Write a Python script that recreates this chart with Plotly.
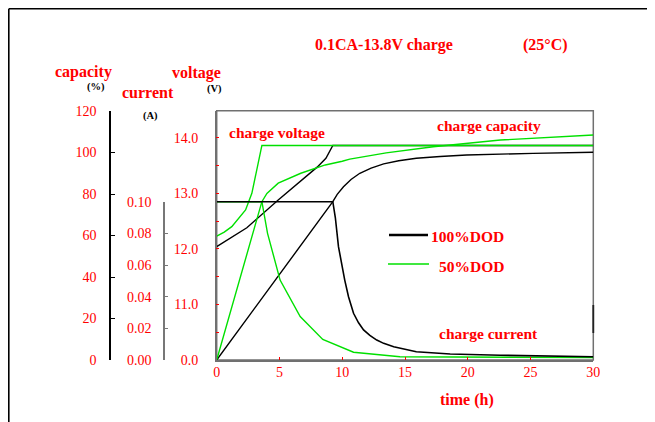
import plotly.graph_objects as go

# ---------------- data ----------------
time_v100 = [0, 2.4, 4.9, 6.8, 8.0, 8.7, 9.05, 9.25, 30]
volt_100 = [12.04, 12.38, 12.88, 13.24, 13.47, 13.63, 13.78, 13.86, 13.86]

time_v50 = [0, 0.6, 1.2, 2.3, 2.8, 3.2, 3.6, 30]
volt_50 = [12.23, 12.30, 12.40, 12.70, 13.00, 13.42, 13.86, 13.86]

time_i100 = [0, 9.25, 9.45, 9.7, 10.2, 10.5, 10.9, 11.3, 11.7, 12.2, 12.75, 13.3, 14.1, 15.9, 18.6, 22.6, 30]
curr_100 = [0.100, 0.100, 0.090, 0.0716, 0.0505, 0.040, 0.0295, 0.0235, 0.019, 0.0155, 0.0126, 0.0105,
            0.0084, 0.0052, 0.0038, 0.0030, 0.0021]

time_i50 = [0, 3.6, 4.05, 5.05, 6.65, 8.45, 10.9, 14.6, 30]
curr_50 = [0.100, 0.100, 0.080, 0.0505, 0.0275, 0.013, 0.0049, 0.0021, 0.0015]

time_c100 = [0, 9.25, 9.6, 10.1, 10.7, 11.4, 12.3, 13.3, 14.5, 15.9, 17.8, 19.9, 25.2, 30]
cap_100 = [0, 76.3, 79.8, 83.5, 87.0, 90.0, 92.5, 94.5, 96.0, 97.2, 98.1, 98.8, 99.6, 100.1]

time_c50 = [0, 3.6, 4.0, 4.9, 6.7, 8.65, 10.0, 10.6, 13.5, 17.25, 22.6, 30]
cap_50 = [0, 76.3, 80.3, 85.2, 90.0, 94.0, 95.8, 96.8, 99.8, 102.8, 106.0, 108.4]

x_ticks = [0, 5, 10, 15, 20, 25, 30]
volt_ticks = [10.0, 10.5, 11.0, 11.5, 12.0, 12.5, 13.0, 13.5, 14.0]
volt_ticktext = ["0.0", "", "11.0", "", "12.0", "", "13.0", "", "14.0"]
cap_ticks = [0, 20, 40, 60, 80, 100, 120]
curr_ticks = [0.00, 0.02, 0.04, 0.06, 0.08, 0.10]

# ---------------- style ----------------
OFF = 8                      # page body margin
W, H = 655 - OFF, 422 - OFF
RED = "#ff0000"
GREEN = "#00e000"
BLACK = "#000000"
FRAME = "#707070"
SERIF = "Liberation Serif, Times New Roman, serif"


def px(x):
    return (x - OFF) / W


def py(y):
    return 1 - (y - OFF) / H


PLOT_L, PLOT_R, PLOT_T, PLOT_B = 216.7, 593.3, 110.7, 360.0
plot_h = PLOT_B - PLOT_T

fig = go.Figure()

# voltage (base axis)
fig.add_trace(go.Scatter(x=time_v100, y=volt_100, mode="lines", line=dict(color=BLACK, width=1.4),
                         showlegend=False, hoverinfo="skip"))
fig.add_trace(go.Scatter(x=time_v50, y=volt_50, mode="lines", line=dict(color=GREEN, width=1.4),
                         showlegend=False, hoverinfo="skip"))
# capacity
fig.add_trace(go.Scatter(x=time_c100, y=cap_100, yaxis="y2", mode="lines", line=dict(color=BLACK, width=1.4),
                         showlegend=False, hoverinfo="skip"))
fig.add_trace(go.Scatter(x=time_c50, y=cap_50, yaxis="y2", mode="lines", line=dict(color=GREEN, width=1.4),
                         showlegend=False, hoverinfo="skip"))
# current (hidden full-height axis)
fig.add_trace(go.Scatter(x=time_i50, y=curr_50, yaxis="y4", mode="lines", line=dict(color=GREEN, width=1.4),
                         showlegend=False, hoverinfo="skip"))
fig.add_trace(go.Scatter(x=time_i100, y=curr_100, yaxis="y4", mode="lines", line=dict(color=BLACK, width=1.6),
                         showlegend=False, hoverinfo="skip"))
# anchor trace for the visible current axis
fig.add_trace(go.Scatter(x=[0], y=[0], yaxis="y3", mode="markers", marker=dict(opacity=0, size=1),
                         showlegend=False, hoverinfo="skip"))

v_top = 10 + 4.0 * plot_h / (360.0 - 137.7)
c_top = 120 * plot_h / (360.0 - 111.0)
i_top = 0.1 * plot_h / (360.0 - 201.7)

tickfont = dict(family=SERIF, size=14, color=RED)

fig.update_layout(
    width=W, height=H, autosize=False,
    margin=dict(l=0, r=0, t=0, b=0),
    paper_bgcolor="white", plot_bgcolor="rgba(0,0,0,0)",
    showlegend=False,
    xaxis=dict(domain=[px(PLOT_L), px(PLOT_R)], range=[0, 30], tickvals=x_ticks,
               ticks="inside", ticklen=3, tickcolor=RED, tickfont=tickfont,
               showline=True, linecolor=FRAME, linewidth=1.5,
               showgrid=False, zeroline=False, automargin=False, ticklabelstandoff=-2),
    yaxis=dict(domain=[py(PLOT_B), py(PLOT_T)], range=[10, v_top], tickvals=volt_ticks,
               ticktext=volt_ticktext, ticks="inside", ticklen=3, tickcolor=RED, tickfont=tickfont,
               showline=True, linecolor=FRAME, linewidth=1.5,
               showgrid=False, zeroline=False, automargin=False, ticklabelstandoff=14),
    yaxis2=dict(overlaying="y", anchor="free", position=px(110), side="left",
                range=[0, c_top], tickvals=cap_ticks, ticks="inside", ticklen=4, tickcolor=BLACK,
                tickfont=tickfont, showline=True, linecolor=BLACK, linewidth=1.5,
                showgrid=False, zeroline=False, automargin=False, ticklabelstandoff=10),
    yaxis3=dict(domain=[py(PLOT_B), py(201.7)], anchor="free", position=px(164), side="left",
                range=[0, 0.1], tickvals=curr_ticks, tickformat=".2f", ticks="inside", ticklen=3,
                tickcolor="#777777", tickfont=tickfont, showline=True, linecolor="#777777",
                linewidth=1.5, showgrid=False, zeroline=False, automargin=False, ticklabelstandoff=9),
    yaxis4=dict(overlaying="y", range=[0, i_top], visible=False, showgrid=False, zeroline=False),
)


def label(text, x, y, size=16, color=RED, bold=True, xanchor="left"):
    fig.add_annotation(text=(f"<b>{text}</b>" if bold else text), x=px(x), y=py(y),
                       xref="paper", yref="paper", xanchor=xanchor, yanchor="middle",
                       showarrow=False, font=dict(family=SERIF, size=size, color=color),
                       borderpad=0)


label("0.1CA-13.8V charge", 314, 45)
label("(25°C)", 522, 45)
label("capacity", 54, 72)
label("(%)", 86, 87, size=10.5, color=BLACK)
label("current", 121, 92)
label("(A)", 142, 116, size=10.5, color=BLACK)
label("voltage", 171, 73)
label("(V)", 206, 89, size=10.5, color=BLACK)
label("time (h)", 439, 400)
label("charge voltage", 228, 132, size=15.5)
label("charge capacity", 436, 126, size=15.5)
label("charge current", 438, 333, size=15.5)
label("100%DOD", 505, 236, size=15.5, xanchor="right")
label("50%DOD", 505, 266, size=15.5, xanchor="right")

shapes = [
    # plot frame
    dict(type="rect", xref="paper", yref="paper", x0=px(PLOT_L), x1=px(PLOT_R), y0=py(PLOT_B), y1=py(PLOT_T),
         line=dict(color=FRAME, width=1.5), fillcolor="rgba(0,0,0,0)", layer="below"),
    # outer border (left and top)
    dict(type="line", xref="paper", yref="paper", x0=px(8.8), x1=px(8.8), y0=py(8.8), y1=py(430),
         line=dict(color=BLACK, width=1.6)),
    dict(type="line", xref="paper", yref="paper", x0=px(8.8), x1=px(670), y0=py(8.8), y1=py(8.8),
         line=dict(color=BLACK, width=1.6)),
    # dark segment on right frame
    dict(type="line", xref="paper", yref="paper", x0=px(593.3), x1=px(593.3), y0=py(305), y1=py(333),
         line=dict(color="#222222", width=1.8)),
    # legend lines
    dict(type="line", xref="paper", yref="paper", x0=px(389), x1=px(428), y0=py(235), y1=py(235),
         line=dict(color=BLACK, width=2.5)),
    dict(type="line", xref="paper", yref="paper", x0=px(388), x1=px(429), y0=py(264), y1=py(264),
         line=dict(color=GREEN, width=1.5)),
]
fig.update_layout(shapes=shapes)

fig.write_html("out.html")
